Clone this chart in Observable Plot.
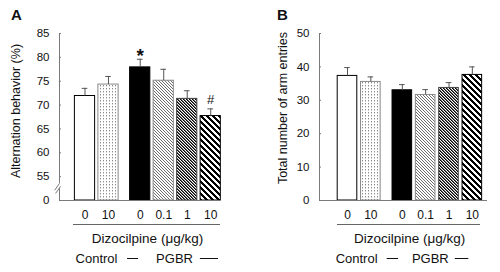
<!DOCTYPE html>
<html><head><meta charset="utf-8">
<script src="https://cdn.jsdelivr.net/npm/d3@7"></script>
<script src="https://cdn.jsdelivr.net/npm/@observablehq/plot@0.6"></script>
<style>
body{margin:0;background:#fff;}
#wrap{display:flex;width:500px;height:272px;overflow:hidden;}
#wrap svg{font-family:"Liberation Sans",Arial,sans-serif;}
</style></head><body><div id="wrap"></div>
<script>
// ---- data ----
const doses = ["0", "10", "0", "0.1", "1", "10"];
const groups = ["Control", "Control", "PGBR", "PGBR", "PGBR", "PGBR"];
const altMean = [71.9, 74.3, 77.9, 75.1, 71.3, 67.7];
const altSem = [1.6, 1.7, 1.7, 2.4, 1.7, 1.5];
const entMean = [37.3, 35.5, 33.0, 31.6, 33.7, 37.6];
const entSem = [2.5, 1.5, 1.7, 1.6, 1.6, 2.4];
const altSig = ["", "", "*", "", "", "#"];
const entSig = ["", "", "", "", "", ""];
const altTicks = [50, 55, 60, 65, 70, 75, 80, 85];
const altTickLabels = ["0", "55", "60", "65", "70", "75", "80", "85"];
const entTicks = [0, 10, 20, 30, 40, 50];
const entTickLabels = ["0", "10", "20", "30", "40", "50"];
const xTitle = "Dizocilpine (\u03bcg/kg)";
const groupNames = ["Control", "PGBR"];

// ---- styles ----
const barFills = ["white", "dots", "black", "fine", "dense", "wide"];
const barStrokes = ["#000", "#8a8a8a", "#000", "#8a8a8a", "#444", "#000"];
const AXIS = "#7a7a7a";

function addPatterns(svg, pre) {
  const defs = d3.select(svg).insert("defs", ":first-child");
  const pat = (id, w, h) => {
    const p = defs.append("pattern").attr("id", pre + "-" + id)
      .attr("patternUnits", "userSpaceOnUse").attr("width", w).attr("height", h)
      .attr("shape-rendering", "crispEdges");
    p.append("rect").attr("width", w).attr("height", h).attr("fill", "#fff");
    return p;
  };
  const px = (p, x, y, c) => p.append("rect").attr("x", x).attr("y", y).attr("width", 1).attr("height", 1).attr("fill", c);
  let p = pat("dots", 3, 3); px(p, 1, 1, "#8c8c8c"); px(p, 1, 2, "#d0d0d0");
  p = pat("fine", 3, 3); for (let k = 0; k < 3; k++) px(p, k, k, "#6e6e6e");
  p = pat("dense", 3, 3); for (let k = 0; k < 3; k++) { px(p, k, k, "#000"); px(p, (k + 1) % 3, k, "#6a6a6a"); }
  p = pat("wide", 6, 6); for (let y = 0; y < 6; y++) for (let k = 0; k < 3; k++) px(p, (y + k) % 6, y, "#000");
}

function panel(cfg) {
  const pre = cfg.id;
  const data = doses.map((d, i) => ({
    dose: d,
    pos: i + (groups[i] === "PGBR" ? 0.35 : 0),
    mean: cfg.mean[i],
    top: cfg.mean[i] + cfg.sem[i],
    fill: (barFills[i] === "white" || barFills[i] === "black") ? barFills[i] : `url(#${pre}-${barFills[i]})`,
    stroke: barStrokes[i],
    sig: cfg.sig[i]
  }));
  const labelByPos = new Map(data.map(d => [d.pos, d.dose]));
  const tickLab = new Map(cfg.ticks.map((t, i) => [t, cfg.tickLabels[i]]));
  const y0 = cfg.yDomain[0], x0 = cfg.xDomain[0];
  const L = cfg.lay;
  const axisMarks = cfg.brk
    ? [
        Plot.ruleX([x0], {y1: cfg.brk.upper, y2: cfg.yDomain[1], stroke: AXIS}),
        Plot.ruleX([x0], {y1: y0, y2: cfg.brk.lower, stroke: AXIS}),
        Plot.link(cfg.brk.slashes, {x1: "x1", y1: "y1", x2: "x2", y2: "y2", stroke: AXIS})
      ]
    : [Plot.ruleX([x0], {y1: y0, y2: cfg.yDomain[1], stroke: AXIS})];
  const below = {frameAnchor: "bottom", lineAnchor: "middle", textAnchor: "middle", fill: "#111"};
  const svg = Plot.plot({
    width: 250, height: 272,
    marginLeft: cfg.marginLeft, marginRight: cfg.marginRight, marginTop: 33, marginBottom: 72,
    x: {type: "linear", domain: cfg.xDomain, axis: null},
    y: {domain: cfg.yDomain, axis: null},
    color: {type: "identity"},
    style: {fontFamily: '"Liberation Sans", Arial, sans-serif', fontSize: "12px", color: "#000", background: "#fff", overflow: "visible"},
    marks: [
      ...axisMarks,
      Plot.axisY(cfg.ticks, {anchor: "left", tickSize: -2, tickPadding: 12, stroke: AXIS, fill: "#111", fontSize: 11.5, tickFormat: t => tickLab.get(t), label: null}),
      Plot.rect(data, {x1: d => d.pos - cfg.half, x2: d => d.pos + cfg.half, y1: y0, y2: "mean", fill: "fill", stroke: "stroke", strokeWidth: 1}),
      Plot.ruleX(data, {x: "pos", y1: "mean", y2: "top", stroke: "#555"}),
      Plot.ruleY(data, {y: "top", x1: d => d.pos - 0.12, x2: d => d.pos + 0.12, stroke: "#555"}),
      Plot.text(data.filter(d => d.sig === "*"), {x: "pos", y: "top", text: "sig", lineAnchor: "middle", dy: -3, fontSize: 19, fontWeight: "bold", fill: "#111"}),
      Plot.text(data.filter(d => d.sig === "#"), {x: "pos", y: "top", text: "sig", lineAnchor: "bottom", dy: -5, fontSize: 13, fill: "#111"}),
      Plot.ruleY([y0], {x1: x0, x2: cfg.xDomain[1], stroke: AXIS}),
      Plot.axisX(data.map(d => d.pos), {anchor: "bottom", tickSize: 0, tickPadding: 10, fontSize: 12, fill: "#111", tickFormat: p => labelByPos.get(p), label: null}),
      Plot.ruleY([y0], {x1: L.ul[0], x2: L.ul[1], dy: 24, stroke: "#666"}),
      Plot.text([xTitle], {...below, x: L.title, dy: 38, fontSize: 13.5}),
      Plot.text([groupNames[0]], {...below, x: L.ctrl, dy: 58, fontSize: 13}),
      Plot.text([groupNames[1]], {...below, x: L.pgbr, dy: 58, fontSize: 13}),
      Plot.ruleY([y0], {x1: L.d1[0], x2: L.d1[1], dy: 58, stroke: "#111"}),
      Plot.ruleY([y0], {x1: L.d2[0], x2: L.d2[1], dy: 58, stroke: "#111"}),
      Plot.text([cfg.ylabel], {frameAnchor: "left", textAnchor: "middle", lineAnchor: "middle", dx: cfg.ylabelDx, dy: cfg.ylabelDy, rotate: -90, fontSize: 12.5, fill: "#111"}),
      Plot.text([cfg.letter], {frameAnchor: "top-left", textAnchor: "middle", lineAnchor: "middle", dx: cfg.letterDx, dy: -18, fontSize: 15, fontWeight: "bold", fill: "#111"})
    ]
  });
  addPatterns(svg, pre);
  return svg;
}

const wrap = document.getElementById("wrap");
wrap.append(panel({
  id: "pa", letter: "A", ylabel: "Alternation behavior (%)",
  mean: altMean, sem: altSem, sig: altSig,
  ticks: altTicks, tickLabels: altTickLabels,
  yDomain: [50, 85], xDomain: [-1.085, 5.766],
  marginLeft: 59, marginRight: 30, half: 0.43,
  ylabelDx: -44, ylabelDy: -6, letterDx: -43,
  brk: {upper: 53.6, lower: 52.5, slashes: [
    {x1: -1.085, y1: 53.6, x2: -1.29, y2: 52.15},
    {x1: -1.04, y1: 52.95, x2: -1.25, y2: 51.5}
  ]},
  lay: {ul: [-0.49, 5.766], title: 2.66, ctrl: 0.49, pgbr: 3.81, d1: [1.81, 2.28], d2: [4.91, 5.68]}
}));
wrap.append(panel({
  id: "pb", letter: "B", ylabel: "Total number of arm entries",
  mean: entMean, sem: entSem, sig: entSig,
  ticks: entTicks, tickLabels: entTickLabels,
  yDomain: [0, 50], xDomain: [-1.2, 6.0],
  marginLeft: 69, marginRight: 13, half: 0.42,
  ylabelDx: -37, ylabelDy: -9, letterDx: -37,
  brk: null,
  lay: {ul: [-0.43, 5.7], title: 2.66, ctrl: 0.39, pgbr: 3.55, d1: [1.7, 2.19], d2: [4.62, 5.2]}
}));
</script></body></html>
